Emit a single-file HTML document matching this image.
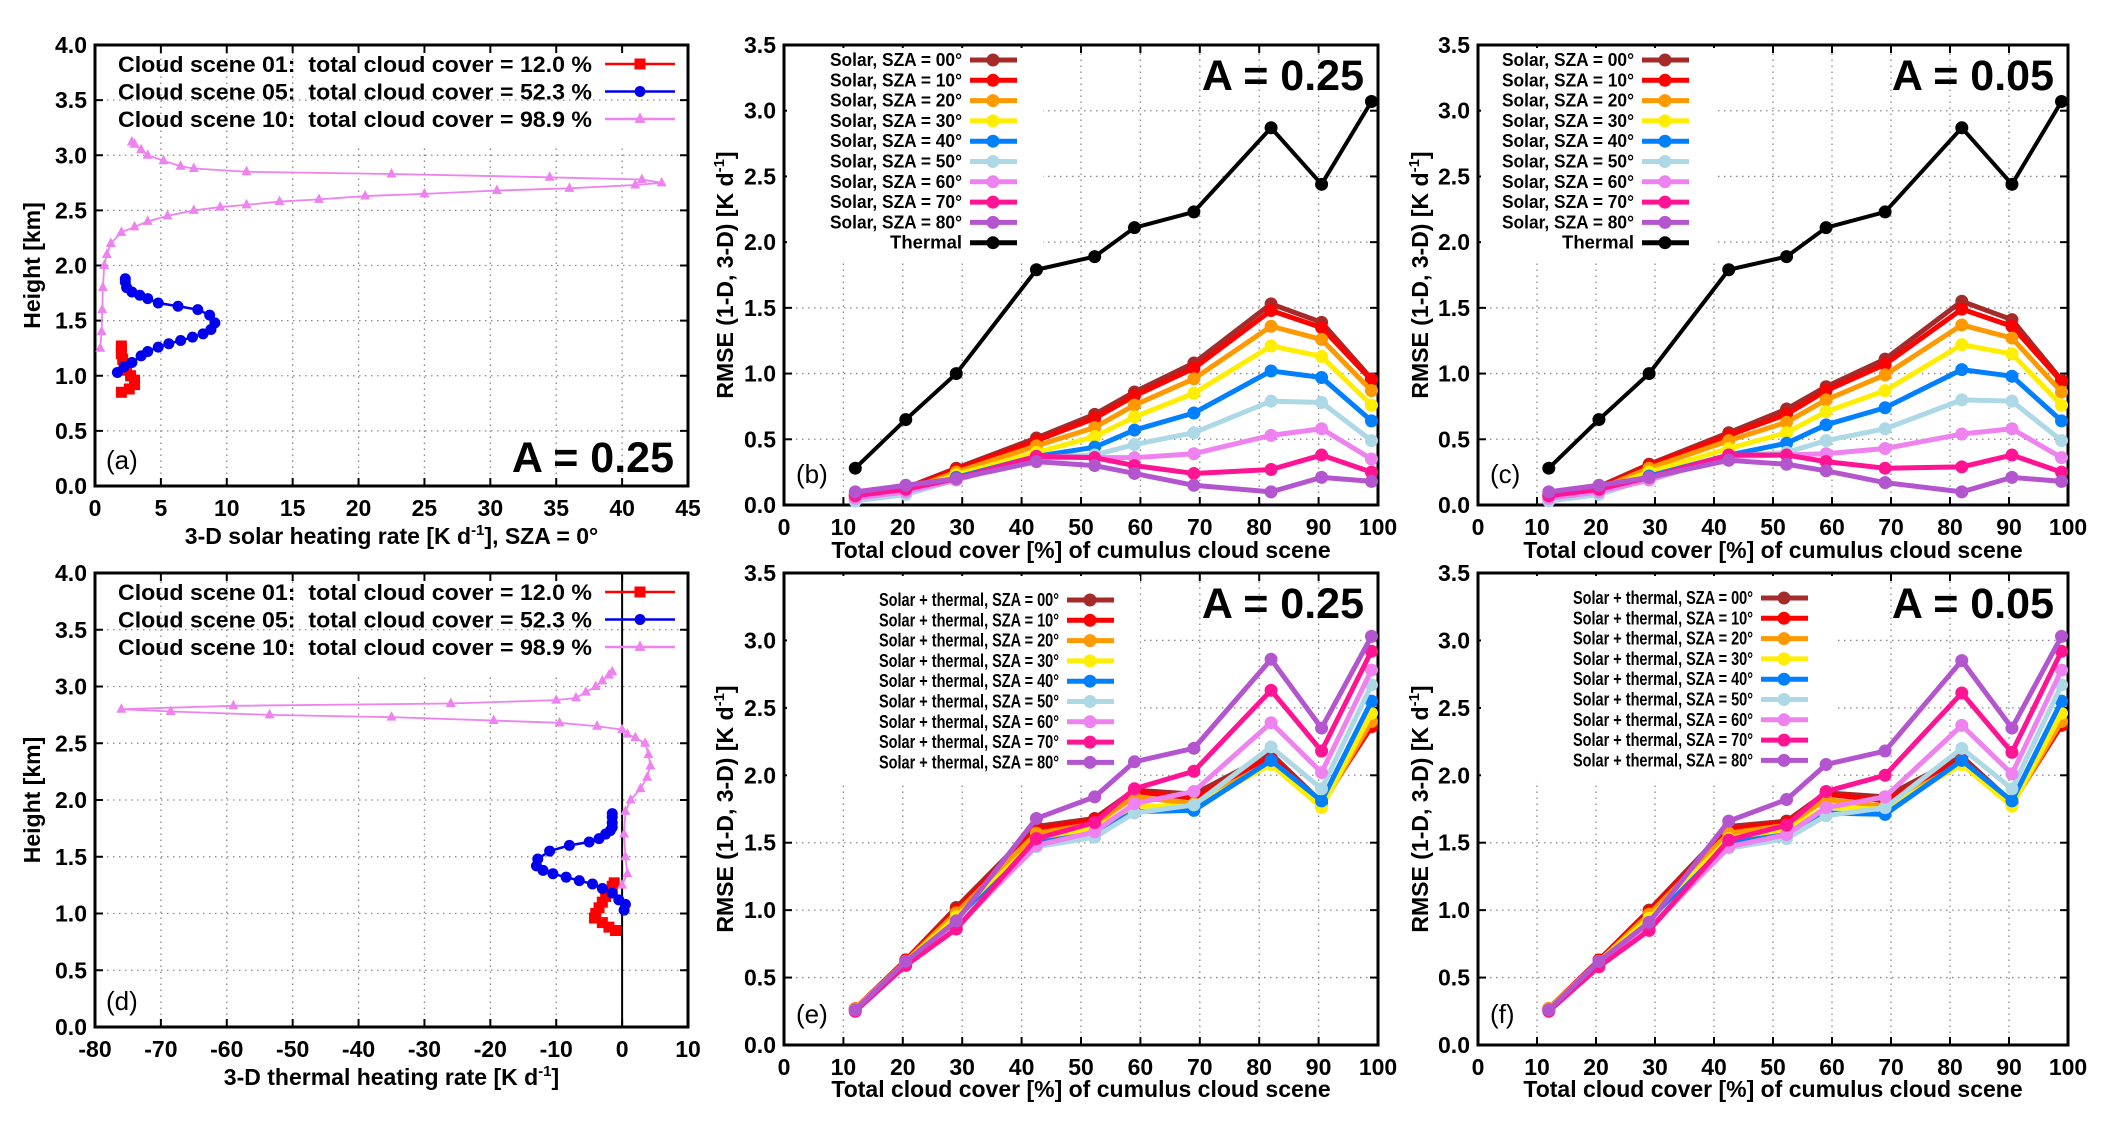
<!DOCTYPE html>
<html><head><meta charset="utf-8"><style>
html,body{margin:0;padding:0;background:#fff;}
svg{display:block;font-family:"Liberation Sans",sans-serif;}
</style></head><body>
<svg id="fig" width="2114" height="1123" viewBox="0 0 2114 1123" xmlns="http://www.w3.org/2000/svg"></svg>
<script>
// ---------- data ----------
const cover = [12, 20.5, 29, 42.5, 52.3, 59, 69, 82, 90.5, 98.9];
const szaLabels = ['00','10','20','30','40','50','60','70','80'];
const szaColors = ['#a52a2a','#ff0000','#ff9900','#ffee00','#0080ff','#add8e6','#ee82ee','#ff1493','#b455d0'];
const thermalB = [0.28,0.65,1.0,1.79,1.89,2.11,2.23,2.87,2.44,3.07];
const solarB = [
 [0.08,0.13,0.28,0.51,0.69,0.86,1.08,1.53,1.39,0.96],
 [0.07,0.12,0.27,0.49,0.66,0.83,1.04,1.48,1.35,0.95],
 [0.06,0.11,0.25,0.45,0.59,0.76,0.96,1.36,1.26,0.87],
 [0.05,0.10,0.23,0.40,0.52,0.67,0.85,1.21,1.13,0.76],
 [0.04,0.09,0.21,0.37,0.44,0.57,0.70,1.02,0.97,0.64],
 [0.03,0.08,0.19,0.36,0.38,0.46,0.55,0.79,0.78,0.49],
 [0.05,0.10,0.19,0.36,0.36,0.36,0.39,0.53,0.58,0.35],
 [0.07,0.12,0.20,0.37,0.36,0.30,0.24,0.27,0.38,0.25],
 [0.10,0.15,0.20,0.33,0.30,0.24,0.15,0.10,0.21,0.18]];
const thermalC = [0.28,0.65,1.0,1.79,1.89,2.11,2.23,2.87,2.44,3.07];
const solarC = [
 [0.08,0.14,0.31,0.55,0.73,0.90,1.11,1.55,1.41,0.95],
 [0.07,0.13,0.30,0.53,0.69,0.87,1.07,1.49,1.36,0.94],
 [0.06,0.12,0.28,0.49,0.63,0.80,0.99,1.37,1.27,0.86],
 [0.05,0.11,0.25,0.43,0.55,0.71,0.87,1.22,1.15,0.76],
 [0.04,0.10,0.22,0.38,0.47,0.61,0.74,1.03,0.98,0.64],
 [0.03,0.08,0.20,0.37,0.40,0.49,0.58,0.80,0.79,0.49],
 [0.05,0.10,0.19,0.37,0.38,0.39,0.43,0.54,0.58,0.36],
 [0.07,0.12,0.21,0.38,0.38,0.33,0.28,0.29,0.38,0.25],
 [0.10,0.15,0.21,0.34,0.31,0.26,0.17,0.10,0.21,0.18]];
const combE = [
 [0.27,0.63,1.02,1.62,1.68,1.89,1.86,2.16,1.80,2.38],
 [0.27,0.63,1.00,1.60,1.67,1.88,1.83,2.14,1.79,2.36],
 [0.27,0.62,0.98,1.57,1.64,1.84,1.79,2.10,1.77,2.40],
 [0.26,0.62,0.95,1.52,1.61,1.77,1.77,2.08,1.76,2.46],
 [0.26,0.61,0.91,1.50,1.57,1.73,1.74,2.11,1.81,2.55],
 [0.26,0.61,0.89,1.47,1.54,1.72,1.78,2.21,1.90,2.67],
 [0.25,0.60,0.87,1.48,1.58,1.79,1.88,2.39,2.02,2.78],
 [0.25,0.59,0.86,1.53,1.65,1.90,2.03,2.63,2.18,2.92],
 [0.26,0.62,0.92,1.68,1.84,2.10,2.20,2.86,2.35,3.03]];
const combF = [
 [0.27,0.63,1.00,1.62,1.66,1.87,1.84,2.14,1.80,2.38],
 [0.27,0.63,0.99,1.60,1.65,1.86,1.81,2.12,1.79,2.37],
 [0.27,0.62,0.97,1.57,1.63,1.82,1.77,2.09,1.78,2.40],
 [0.26,0.62,0.94,1.53,1.60,1.76,1.75,2.08,1.77,2.46],
 [0.26,0.61,0.90,1.50,1.56,1.72,1.71,2.11,1.81,2.55],
 [0.26,0.60,0.88,1.46,1.53,1.70,1.76,2.20,1.90,2.67],
 [0.25,0.59,0.86,1.47,1.56,1.76,1.84,2.37,2.01,2.78],
 [0.25,0.58,0.85,1.52,1.63,1.88,2.00,2.61,2.17,2.92],
 [0.26,0.62,0.91,1.66,1.82,2.08,2.18,2.85,2.35,3.03]];
// profiles: heights (km) and rates
const s01H = [0.85,0.88,0.92,0.96,1.0,1.05,1.1,1.15,1.2,1.24,1.27];
const s01Sol = [2.0,2.6,3.0,3.0,2.7,2.4,2.2,2.1,2.0,2.0,2.0];
const s05H = [1.03,1.08,1.12,1.18,1.22,1.26,1.29,1.32,1.35,1.38,1.42,1.48,1.55,1.60,1.63,1.66,1.70,1.73,1.76,1.80,1.85,1.88];
const s05Sol = [1.7,2.2,2.8,3.5,4.0,4.8,5.6,6.5,7.4,8.2,8.8,9.1,8.7,7.8,6.3,4.8,4.0,3.4,2.8,2.4,2.3,2.3];
const s10H = [1.25,1.4,1.6,1.8,2.0,2.1,2.2,2.3,2.35,2.4,2.45,2.5,2.53,2.55,2.58,2.6,2.63,2.65,2.68,2.70,2.73,2.75,2.78,2.80,2.83,2.85,2.88,2.9,2.95,3.0,3.05,3.1,3.12];
const s10Sol = [0.4,0.5,0.55,0.6,0.7,0.9,1.2,2.0,3.0,4.0,5.5,7.5,9.5,11.5,14,17,20.5,25,30.5,36,41,43,41.5,34.5,22.5,11.5,7.5,6.5,5.2,4.0,3.5,3.0,2.8];
const s01Th = [-1,-2,-3,-4.2,-4.0,-3.5,-3,-2.5,-1.8,-1.5,-1.2];
const s05Th = [0.3,0.5,-0.5,-1.5,-3,-4.5,-6.5,-8.5,-10.5,-12,-13,-12.8,-11,-8,-5,-3.5,-2.5,-1.8,-1.5,-1.5,-1.5,-1.5];
const s10ThH = [1.25,1.35,1.5,1.7,1.9,2.0,2.1,2.2,2.3,2.4,2.5,2.55,2.58,2.62,2.65,2.68,2.70,2.73,2.75,2.78,2.80,2.83,2.85,2.88,2.90,2.95,3.0,3.05,3.1,3.13];
const s10Th = [0,0.8,0.5,0.3,0.5,1.3,2.8,3.8,4.3,4.0,3.5,2.0,0.8,0,-3.8,-9.5,-19.5,-35,-53.5,-68.5,-76,-59,-26,-10,-7,-5.5,-4,-3,-2,-1.5];
const yTicksH = [0,0.5,1,1.5,2,2.5,3,3.5,4];
const yTicksR = [0,0.5,1,1.5,2,2.5,3,3.5];
const xTicksA = [0,5,10,15,20,25,30,35,40,45];
const xTicksD = [-80,-70,-60,-50,-40,-30,-20,-10,0,10];
const xTicksB = [0,10,20,30,40,50,60,70,80,90,100];

// ---------- helpers ----------
const NS='http://www.w3.org/2000/svg';
const svg=document.getElementById('fig');
function mk(tag,attrs,parent,text){const e=document.createElementNS(NS,tag);for(const k in attrs)e.setAttribute(k,attrs[k]);if(text!==undefined)e.textContent=text;(parent||svg).appendChild(e);return e;}
function fmt(v,d){return v.toFixed(d);}

function axes(g,P,xt,yt,xd,yd,xTitle,yTitle,gridSkip){
  const sx=v=>P.x0+(v-P.xmin)/(P.xmax-P.xmin)*(P.x1-P.x0);
  const sy=v=>P.y1-(v-P.ymin)/(P.ymax-P.ymin)*(P.y1-P.y0);
  xt.forEach(v=>{const x=sx(v);if(x<=P.x0+1||x>=P.x1-1)return;
    const top=gridSkip?gridSkip(x):P.y0;
    const l=mk('line',{x1:x,x2:x,y1:P.y1,y2:top,stroke:'#888','stroke-width':1.3,'stroke-dasharray':'1.5,4.5'},g);
    });
  yt.forEach(v=>{const y=sy(v);if(y<=P.y0+1||y>=P.y1-1)return;
    const l=mk('line',{x1:P.x0,x2:P.x1,y1:y,y2:y,stroke:'#888','stroke-width':1.3,'stroke-dasharray':'1.5,4.5'},g);
    });
  xt.forEach(v=>{const x=sx(v);
    mk('line',{x1:x,x2:x,y1:P.y1,y2:P.y1-8,stroke:'#000','stroke-width':2},g);
    mk('line',{x1:x,x2:x,y1:P.y0,y2:P.y0+8,stroke:'#000','stroke-width':2},g);
    const t=mk('text',{x:x,y:P.y1+30,'text-anchor':'middle','font-size':23,'font-weight':'bold'},g,fmt(v,xd));
    });
  yt.forEach(v=>{const y=sy(v);
    mk('line',{x1:P.x0,x2:P.x0+8,y1:y,y2:y,stroke:'#000','stroke-width':2},g);
    mk('line',{x1:P.x1,x2:P.x1-8,y1:y,y2:y,stroke:'#000','stroke-width':2},g);
    const t=mk('text',{x:P.x0-8,y:y+8,'text-anchor':'end','font-size':23,'font-weight':'bold'},g,fmt(v,yd));
    });
  const f=mk('rect',{x:P.x0,y:P.y0,width:P.x1-P.x0,height:P.y1-P.y0,fill:'none',stroke:'#000','stroke-width':3},g);
  
  const xt_=mk('text',{x:(P.x0+P.x1)/2,y:P.y1+P.xty,'text-anchor':'middle','font-size':23,'font-weight':'bold'},g);
  xt_.innerHTML=xTitle;
  const cy=(P.y0+P.y1)/2;
  const yt_=mk('text',{x:P.ytx,y:cy,'text-anchor':'middle','font-size':23,'font-weight':'bold',transform:`rotate(-90 ${P.ytx} ${cy})`},g);
  yt_.innerHTML=yTitle;
  return {sx,sy};
}

function marker(g,type,x,y,color,size){
  if(type==='sq')return mk('rect',{x:x-size,y:y-size,width:2*size,height:2*size,fill:color},g);
  if(type==='tri')return mk('path',{d:`M${x},${y-size*1.2}L${x+size},${y+size*0.7}L${x-size},${y+size*0.7}Z`,fill:color},g);
  return mk('circle',{cx:x,cy:y,r:size,fill:color},g);
}

// ---------- profile panels ----------
function profilePanel(P,xt,xTitle,series,label,letter,zeroLine){
  const g=mk('g',{});
  const ax=axes(g,P,xt,yTicksH,0,1,xTitle,'Height [km]',
    x=>x>P.x0+235?P.y0+100:P.y0);
  if(zeroLine){const z=mk('line',{x1:ax.sx(0),x2:ax.sx(0),y1:P.y0,y2:P.y1,stroke:'#000','stroke-width':2},g);
    }
  const names=['Cloud scene 01:  total cloud cover = 12.0 %','Cloud scene 05:  total cloud cover = 52.3 %','Cloud scene 10:  total cloud cover = 98.9 %'];
  series.forEach((s,i)=>{
    const sg=mk('g',{},g);
    const pts=s.h.map((h,j)=>ax.sx(s.v[j])+','+ax.sy(h)).join(' ');
    mk('polyline',{points:pts,fill:'none',stroke:s.c,'stroke-width':s.t==='tri'?1.8:2.5},sg);
    s.h.forEach((h,j)=>marker(sg,s.t,ax.sx(s.v[j]),ax.sy(h),s.c,s.t==='tri'?5:5.5));
    const ly=P.y0+19+i*27.5;
    const lt=mk('text',{x:P.x0+497,y:ly+8,'text-anchor':'end','font-size':22.5,'font-weight':'bold',textLength:474,lengthAdjust:'spacingAndGlyphs'},g,names[i].replace(/ /g,'\u00a0'));
    
    mk('line',{x1:P.x0+510,x2:P.x0+580,y1:ly,y2:ly,stroke:s.c,'stroke-width':2.5},g);
    marker(g,s.t,P.x0+545,ly,s.c,5.5);
  });
  const a=mk('text',{x:P.x1-14,y:P.y1-14,'text-anchor':'end','font-size':43,'font-weight':'bold'},g,label);
  
  const l=mk('text',{x:P.x0+11,y:P.y1-17,'font-size':26},g,'('+letter+')');
  
}

profilePanel({x0:95,x1:688,y0:45,y1:486,xmin:0,xmax:45,ymin:0,ymax:4,ytx:40,xty:58},xTicksA,
  '3-D solar heating rate [K d<tspan dy="-9" font-size="15">-1</tspan><tspan dy="9">], SZA = 0°</tspan>',
  [{h:s01H,v:s01Sol,c:'#ff0000',t:'sq'},{h:s05H,v:s05Sol,c:'#0000ee',t:'circ'},{h:s10H,v:s10Sol,c:'#ee82ee',t:'tri'}],
  'A = 0.25','a',false);
profilePanel({x0:95,x1:688,y0:573,y1:1027,xmin:-80,xmax:10,ymin:0,ymax:4,ytx:40,xty:58},xTicksD,
  '3-D thermal heating rate [K d<tspan dy="-9" font-size="15">-1</tspan><tspan dy="9">]</tspan>',
  [{h:s01H,v:s01Th,c:'#ff0000',t:'sq'},{h:s05H,v:s05Th,c:'#0000ee',t:'circ'},{h:s10ThH,v:s10Th,c:'#ee82ee',t:'tri'}],
  '','d',true);

// ---------- RMSE panels ----------
function rmsePanel(P,series,label,letter,legX,legY,legW){
  const g=mk('g',{});
  const legBottom=legY+20.3*series.length;
  const ax=axes(g,P,xTicksB,yTicksR,0,1,'Total cloud cover [%] of cumulus cloud scene',
    'RMSE (1-D, 3-D) [K d<tspan dy="-9" font-size="15">-1</tspan><tspan dy="9">]</tspan>',
    x=>x<legX+70?legBottom:P.y0);
  mk('rect',{x:P.x0+3,y:P.y0+3,width:legX+75-P.x0,height:legBottom-P.y0-3,fill:'#fff'},g);
  series.forEach((s,i)=>{
    const sg=mk('g',{},g);
    const pts=cover.map((c,j)=>ax.sx(c)+','+ax.sy(s.v[j])).join(' ');
    mk('polyline',{points:pts,fill:'none',stroke:s.c,'stroke-width':s.c==='#000'?4:5,'stroke-linejoin':'round'},sg);
    cover.forEach((c,j)=>marker(sg,'circ',ax.sx(c),ax.sy(s.v[j]),s.c,6.5));
  });
  series.forEach((s,i)=>{
    const ly=legY+i*20.3;
    const attrs={x:legX-3,y:ly+6,'text-anchor':'end','font-size':18.5,'font-weight':'bold'};
    if(s.c!=='#000'){attrs.textLength=legW;attrs.lengthAdjust='spacingAndGlyphs';}
    const t=mk('text',attrs,g,s.name);
    
    mk('line',{x1:legX+5,x2:legX+52,y1:ly,y2:ly,stroke:s.c,'stroke-width':5},g);
    marker(g,'circ',legX+28,ly,s.c,6.5);
  });
  const a=mk('text',{x:P.x1-14,y:P.y0+45,'text-anchor':'end','font-size':43,'font-weight':'bold'},g,label);
  
  const l=mk('text',{x:P.x0+12,y:P.y1-22,'font-size':26},g,'('+letter+')');
  
}
function solarSeries(arr,thermal,pre){
  const s=arr.map((v,i)=>({name:pre+szaLabels[i]+'°',v:v,c:szaColors[i]}));
  if(thermal)s.push({name:'Thermal',v:thermal,c:'#000'});
  return s;
}
rmsePanel({x0:784,x1:1378,y0:45,y1:505,xmin:0,xmax:100,ymin:0,ymax:3.5,ytx:733,xty:53},solarSeries(solarB,thermalB,'Solar, SZA = '),'A = 0.25','b',965,60,132);
rmsePanel({x0:1478,x1:2068,y0:45,y1:505,xmin:0,xmax:100,ymin:0,ymax:3.5,ytx:1428,xty:53},solarSeries(solarC,thermalC,'Solar, SZA = '),'A = 0.05','c',1637,60,132);
rmsePanel({x0:784,x1:1378,y0:573,y1:1045,xmin:0,xmax:100,ymin:0,ymax:3.5,ytx:733,xty:52},solarSeries(combE,null,'Solar + thermal, SZA = '),'A = 0.25','e',1062,600,180);
rmsePanel({x0:1478,x1:2068,y0:573,y1:1045,xmin:0,xmax:100,ymin:0,ymax:3.5,ytx:1428,xty:52},solarSeries(combF,null,'Solar + thermal, SZA = '),'A = 0.05','f',1756,598,180);
</script>
</body></html>
